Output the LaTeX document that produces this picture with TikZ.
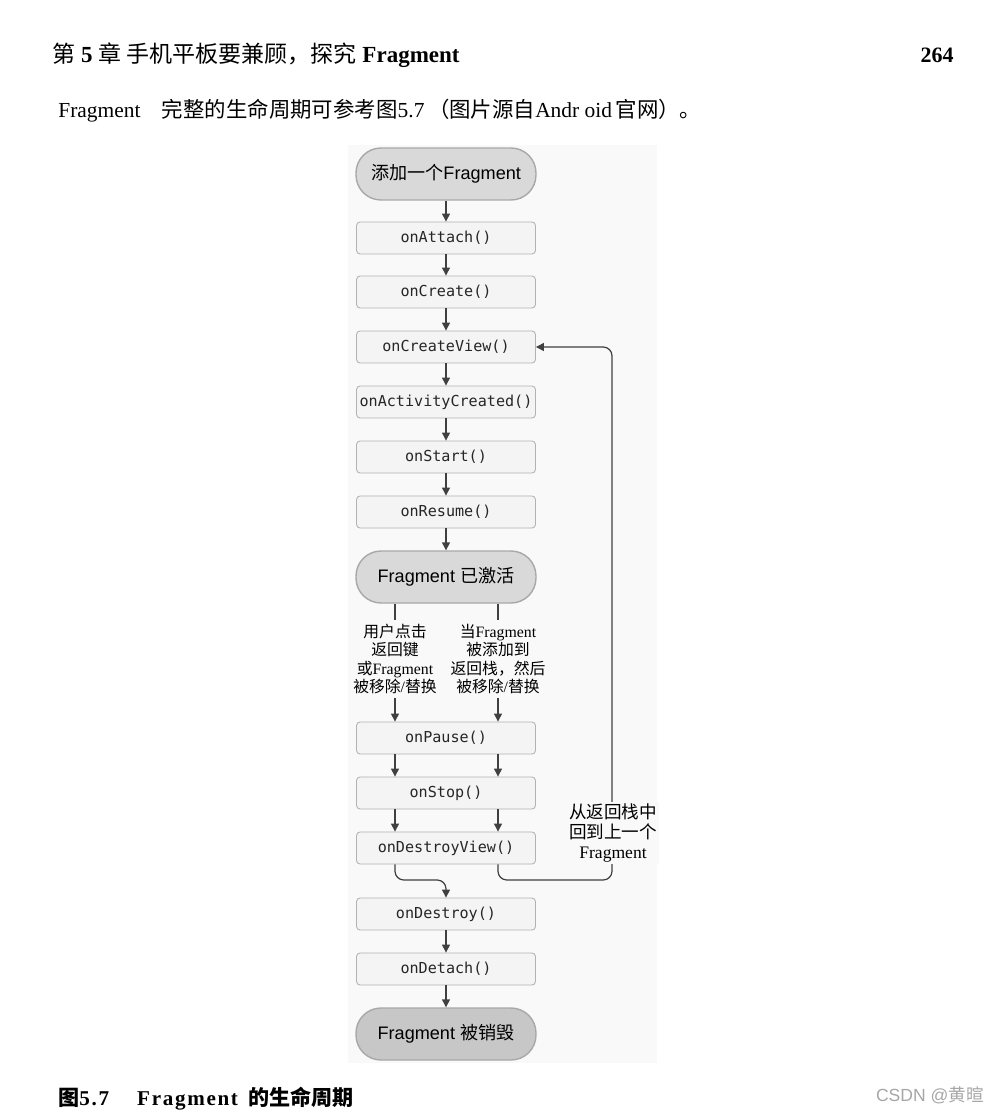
\documentclass[tikz,border=0pt]{standalone}
\usepackage{fontspec}
\setmainfont{Liberation Serif}
\setsansfont{Liberation Sans}
\setmonofont{DejaVu Sans Mono}
\newfontfamily\cjkfont{Noto Sans CJK SC}
\newcommand\zh[1]{{\cjkfont #1}}
\usetikzlibrary{arrows.meta}
\definecolor{figbg}{gray}{0.975}
\definecolor{boxfill}{gray}{0.955}
\definecolor{boxline}{gray}{0.7}
\definecolor{pillfill}{gray}{0.85}
\definecolor{pillend}{gray}{0.78}
\definecolor{pillline}{gray}{0.66}
\definecolor{arrowgray}{gray}{0.25}
\tikzstyle{method}=[draw=boxline,line width=0.5pt,fill=boxfill,rounded corners=2pt,minimum width=3.58cm,minimum height=0.64cm,inner sep=0pt,font=\ttfamily\fontsize{8.6}{10}\selectfont,text=black!85]
\tikzstyle{state}=[draw=pillline,line width=0.8pt,fill=pillfill,rounded corners=0.5cm,minimum width=3.6cm,minimum height=1.04cm,inner sep=0pt,font=\sffamily\fontsize{10.3}{12}\selectfont]
\tikzstyle{line}=[draw=arrowgray,line width=0.7pt,-{Triangle[length=4.5pt,width=4.5pt]}]
\tikzstyle{note}=[align=center,inner sep=2pt,font=\fontsize{9}{10.6}\selectfont]

\begin{document}
\begin{tikzpicture}[x=0.02cm,y=-0.02cm]
  \useasboundingbox (0,0) rectangle (987,1112);

  % page text
  \node[anchor=base west,inner sep=0pt,font=\fontsize{13.1}{15}\selectfont] (chapter) at (52,62)
    {\zh{第} \textbf{5} \zh{章 手机平板要兼顾，探究} \textbf{Fragment}};
  \node[anchor=base east,inner sep=0pt,font=\bfseries\fontsize{12.5}{15}\selectfont] (page) at (954,62) {264};
  \node[anchor=base west,inner sep=0pt,font=\fontsize{12.2}{14}\selectfont] (intro) at (58,117)
    {Fragment\quad\zh{完整的生命周期可参考图}5.7\,\zh{（图片源自}Andr oid\,\zh{官网）。}};

  % figure
  \fill[figbg] (348,145) rectangle (657,1063);

  \node[state] (add) at (446,174) {\zh{添加一个}Fragment};
  \node[method] (attach) at (446,238) {onAttach()};
  \node[method] (create) at (446,292) {onCreate()};
  \node[method] (cview) at (446,347) {onCreateView()};
  \node[method] (acreated) at (446,402) {onActivityCreated()};
  \node[method] (onstart) at (446,457) {onStart()};
  \node[method] (resume) at (446,512) {onResume()};
  \node[state] (active) at (446,577) {Fragment \zh{已激活}};

  \node[note] (lblL) at (395,659) {\zh{用户点击}\\\zh{返回键}\\\zh{或}Fragment\\\zh{被移除}/\zh{替换}};
  \node[note] (lblR) at (498,659) {\zh{当}Fragment\\\zh{被添加到}\\\zh{返回栈，然后}\\\zh{被移除}/\zh{替换}};

  \node[method] (pause) at (446,738) {onPause()};
  \node[method] (stop) at (446,793) {onStop()};
  \node[method] (dview) at (446,848) {onDestroyView()};
  \node[method] (destroy) at (446,914) {onDestroy()};
  \node[method] (detach) at (446,969) {onDetach()};
  \node[state,fill=pillend] (gone) at (446,1034) {Fragment \zh{被销毁}};

  % straight arrows
  \foreach \a/\b in {add/attach,attach/create,create/cview,cview/acreated,acreated/onstart,onstart/resume,resume/active,destroy/detach,detach/gone}
    \draw[line] (\a) -- (\b);

  % two ways down
  \foreach \l in {lblL,lblR} {
    \draw[draw=arrowgray,line width=0.7pt] (active.south -| \l) -- (\l.north);
    \draw[line] (\l.south) -- (pause.north -| \l);
    \draw[line] (pause.south -| \l) -- (stop.north -| \l);
    \draw[line] (stop.south -| \l) -- (dview.north -| \l);
  }

  % join and back stack
  \coordinate (join) at (446,880);
  \coordinate (back) at (612,880);
  \draw[line,rounded corners=5pt] (dview.south -| lblL) |- (join) -- (destroy.north);
  \draw[line,rounded corners=5pt] (dview.south -| lblR) |- (back) -- (back |- cview) -- (cview.east);
  \node[align=center,fill=figbg,inner sep=1pt,font=\fontsize{10}{11.6}\selectfont] (backlbl) at (613,833)
    {\zh{从返回栈中}\\\zh{回到上一个}\\Fragment};

  % caption
  \node[anchor=base west,inner sep=0pt,font=\bfseries\fontsize{12}{14}\selectfont] (caption) at (58,1105)
    {\zh{图}{\addfontfeature{LetterSpace=8}5.7\quad\ Fragment}\ \ \zh{的生命周期}};
  \node[anchor=base east,inner sep=0pt,text=black!35,font=\sffamily\fontsize{10}{12}\selectfont] (mark) at (984,1101)
    {CSDN @\zh{黄暄}};
\end{tikzpicture}
\end{document}
